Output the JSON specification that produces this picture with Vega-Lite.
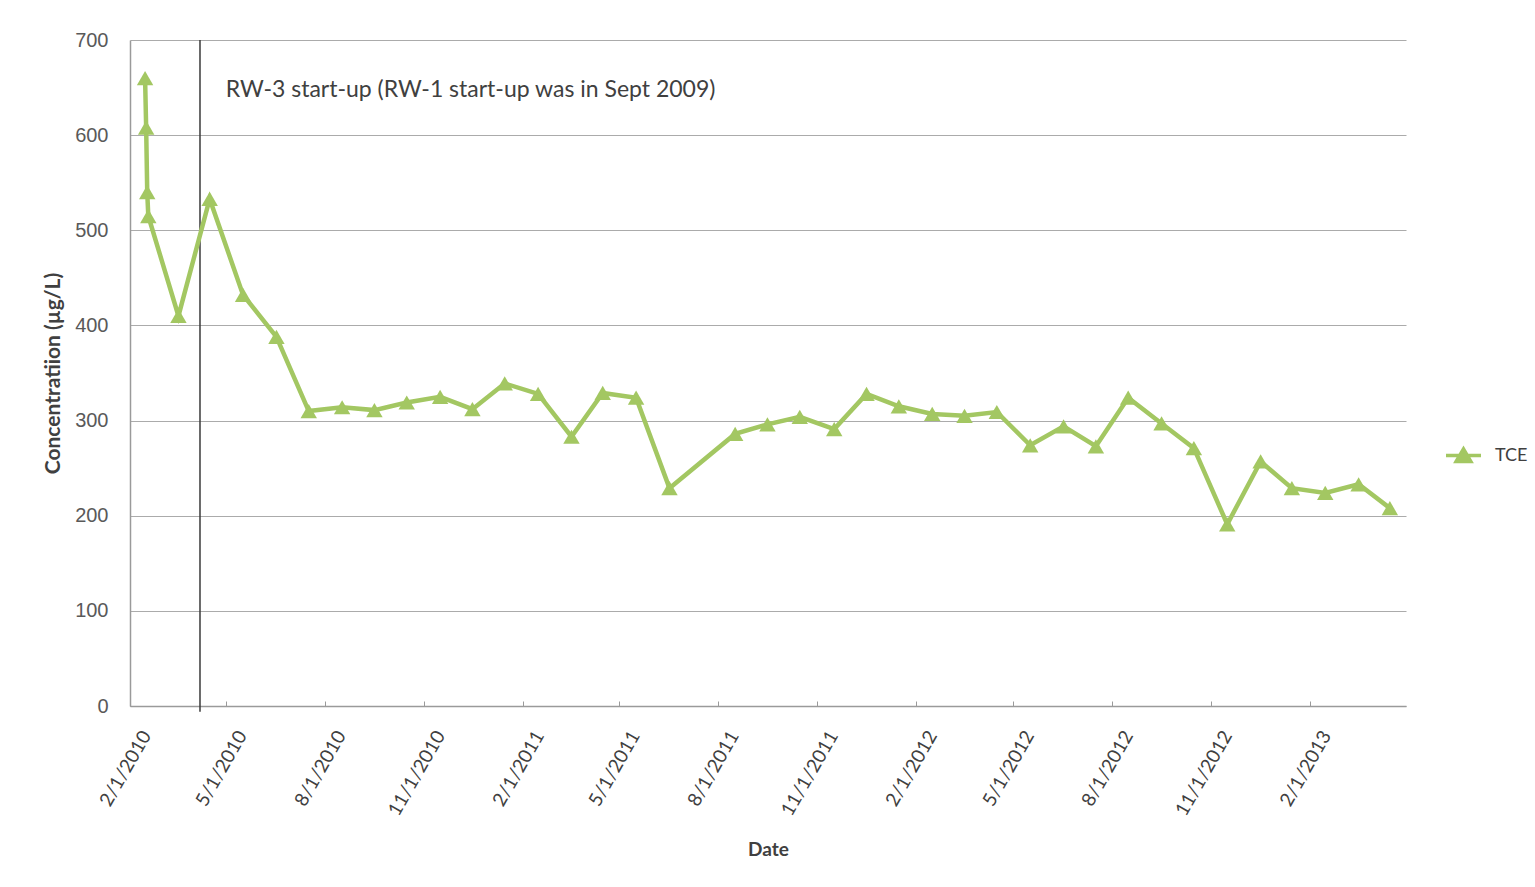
{
  "$schema": "https://vega.github.io/schema/vega-lite/v6.json",
  "width": 1276,
  "height": 666,
  "autosize": {"type": "none"},
  "padding": {"left": 130, "top": 40, "right": 129, "bottom": 181},
  "background": "white",
  "config": {"view": {"stroke": null}, "font": "Lato"},
  "data": {
    "values": [
      {"date": "2010-02-15", "value": 660, "series": "TCE"},
      {"date": "2010-02-16", "value": 608, "series": "TCE"},
      {"date": "2010-02-17", "value": 540, "series": "TCE"},
      {"date": "2010-02-18", "value": 515, "series": "TCE"},
      {"date": "2010-03-18", "value": 410, "series": "TCE"},
      {"date": "2010-04-16", "value": 533, "series": "TCE"},
      {"date": "2010-05-17", "value": 432, "series": "TCE"},
      {"date": "2010-06-17", "value": 388, "series": "TCE"},
      {"date": "2010-07-17", "value": 310, "series": "TCE"},
      {"date": "2010-08-17", "value": 314, "series": "TCE"},
      {"date": "2010-09-16", "value": 311, "series": "TCE"},
      {"date": "2010-10-16", "value": 319, "series": "TCE"},
      {"date": "2010-11-16", "value": 325, "series": "TCE"},
      {"date": "2010-12-16", "value": 312, "series": "TCE"},
      {"date": "2011-01-15", "value": 339, "series": "TCE"},
      {"date": "2011-02-15", "value": 328, "series": "TCE"},
      {"date": "2011-03-18", "value": 283, "series": "TCE"},
      {"date": "2011-04-16", "value": 329, "series": "TCE"},
      {"date": "2011-05-17", "value": 324, "series": "TCE"},
      {"date": "2011-06-17", "value": 229, "series": "TCE"},
      {"date": "2011-08-17", "value": 286, "series": "TCE"},
      {"date": "2011-09-16", "value": 296, "series": "TCE"},
      {"date": "2011-10-16", "value": 304, "series": "TCE"},
      {"date": "2011-11-17", "value": 291, "series": "TCE"},
      {"date": "2011-12-17", "value": 328, "series": "TCE"},
      {"date": "2012-01-16", "value": 315, "series": "TCE"},
      {"date": "2012-02-16", "value": 307, "series": "TCE"},
      {"date": "2012-03-17", "value": 305, "series": "TCE"},
      {"date": "2012-04-16", "value": 309, "series": "TCE"},
      {"date": "2012-05-17", "value": 274, "series": "TCE"},
      {"date": "2012-06-17", "value": 294, "series": "TCE"},
      {"date": "2012-07-17", "value": 273, "series": "TCE"},
      {"date": "2012-08-16", "value": 324, "series": "TCE"},
      {"date": "2012-09-16", "value": 297, "series": "TCE"},
      {"date": "2012-10-16", "value": 271, "series": "TCE"},
      {"date": "2012-11-16", "value": 191, "series": "TCE"},
      {"date": "2012-12-17", "value": 257, "series": "TCE"},
      {"date": "2013-01-15", "value": 229, "series": "TCE"},
      {"date": "2013-02-15", "value": 224, "series": "TCE"},
      {"date": "2013-03-18", "value": 233, "series": "TCE"},
      {"date": "2013-04-16", "value": 208, "series": "TCE"}
    ]
  },
  "encoding": {
    "x": {
      "field": "date",
      "type": "temporal",
      "scale": {
        "type": "utc",
        "domain": [
          {"year": 2010, "month": 2, "date": 1, "utc": true},
          {"year": 2013, "month": 5, "date": 1, "utc": true}
        ]
      },
      "axis": {
        "values": [
          {"year": 2010, "month": 2, "date": 1, "utc": true},
          {"year": 2010, "month": 5, "date": 1, "utc": true},
          {"year": 2010, "month": 8, "date": 1, "utc": true},
          {"year": 2010, "month": 11, "date": 1, "utc": true},
          {"year": 2011, "month": 2, "date": 1, "utc": true},
          {"year": 2011, "month": 5, "date": 1, "utc": true},
          {"year": 2011, "month": 8, "date": 1, "utc": true},
          {"year": 2011, "month": 11, "date": 1, "utc": true},
          {"year": 2012, "month": 2, "date": 1, "utc": true},
          {"year": 2012, "month": 5, "date": 1, "utc": true},
          {"year": 2012, "month": 8, "date": 1, "utc": true},
          {"year": 2012, "month": 11, "date": 1, "utc": true},
          {"year": 2013, "month": 2, "date": 1, "utc": true}
        ],
        "labelExpr": "utcFormat(datum.value, '%-m/%-d/%Y')",
        "title": "Date",
        "titleFont": "Lato",
        "titleFontSize": 19,
        "titleFontWeight": "bold",
        "titleColor": "#404040",
        "titleY": 143,
        "titleBaseline": "middle",
        "labelFont": "Lato",
        "labelFontSize": 19,
        "labelColor": "#404040",
        "labelAngle": -60,
        "labelAlign": "right",
        "labelBaseline": "middle",
        "labelPadding": 31,
        "labelOffset": 16,
        "labelOverlap": false,
        "labelFlush": false,
        "labelBound": false,
        "tickSize": -5,
        "tickColor": "#9a9a9a",
        "domainColor": "#9a9a9a",
        "domainWidth": 1.5,
        "grid": false
      }
    },
    "y": {
      "field": "value",
      "type": "quantitative",
      "scale": {"domain": [0, 700], "nice": false, "zero": true},
      "axis": {
        "values": [0, 100, 200, 300, 400, 500, 600, 700],
        "title": "Concentratiion (µg/L)",
        "titleFont": "Lato",
        "titleFontSize": 21,
        "titleFontWeight": "bold",
        "titleColor": "#404040",
        "titleX": -77,
        "titleBaseline": "middle",
        "labelFont": "Liberation Sans",
        "labelFontSize": 20,
        "labelColor": "#595959",
        "labelPadding": 22,
        "tickSize": 0,
        "grid": true,
        "gridColor": "#ababab",
        "gridWidth": 1,
        "domainColor": "#9a9a9a",
        "domainWidth": 1.5
      }
    }
  },
  "layer": [
    {
      "data": {"values": [{"date": "2010-04-07", "value": 700, "low": -6}]},
      "mark": {"type": "rule", "color": "#3a3a3a", "strokeWidth": 1.5},
      "encoding": {"y2": {"field": "low"}}
    },
    {
      "mark": {"type": "line", "color": "#a3c762", "strokeWidth": 4.5},
      "encoding": {}
    },
    {
      "mark": {"type": "point", "shape": "triangle-up", "filled": true, "size": 270, "opacity": 1},
      "encoding": {
        "color": {
          "field": "series",
          "type": "nominal",
          "scale": {"range": ["#a3c762"]},
          "legend": {
            "orient": "none",
            "legendX": 1314,
            "legendY": 396,
            "title": null,
            "padding": 0,
            "symbolType": "M-1,0H1M-0.42,0.34L0,-0.38L0.42,0.34Z",
            "symbolSize": 1225,
            "symbolStrokeWidth": 3.5,
            "symbolStrokeColor": "#a3c762",
            "symbolFillColor": "#a3c762",
            "symbolOpacity": 1,
            "labelFont": "Lato",
            "labelFontSize": 18,
            "labelColor": "#404040",
            "labelOffset": 12,
            "encode": {
              "symbols": {
                "update": {
                  "stroke": {"value": "#a3c762"},
                  "strokeWidth": {"value": 3.5},
                  "fill": {"value": "#a3c762"},
                  "opacity": {"value": 1}
                }
              }
            }
          }
        }
      }
    },
    {
      "data": {"values": [{"date": "2010-05-01", "value": 647, "label": "RW-3 start-up (RW-1 start-up was in Sept 2009)"}]},
      "mark": {"type": "text", "align": "left", "baseline": "middle", "font": "Lato", "fontSize": 23, "color": "#404040"},
      "encoding": {"text": {"field": "label"}}
    }
  ]
}
